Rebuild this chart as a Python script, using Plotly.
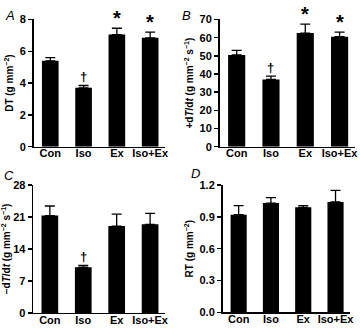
import plotly.graph_objects as go

categories = ["Con", "Iso", "Ex", "Iso+Ex"]

dt_vals = [5.4, 3.7, 7.05, 6.85]
dt_err = [0.2, 0.15, 0.4, 0.35]

plus_vals = [50.5, 37.0, 62.5, 60.5]
plus_err = [2.5, 1.8, 5.0, 2.5]

minus_vals = [21.3, 10.0, 19.0, 19.4]
minus_err = [2.1, 0.4, 2.6, 2.4]

rt_vals = [0.92, 1.03, 0.99, 1.04]
rt_err = [0.085, 0.05, 0.015, 0.11]

# significance markers: (category index, symbol)
dt_marks = [(1, "†"), (2, "*"), (3, "*")]
plus_marks = [(1, "†"), (2, "*"), (3, "*")]
minus_marks = [(1, "†")]
rt_marks = []

panels = [
    dict(vals=dt_vals, err=dt_err, marks=dt_marks, letter="A",
         title="DT (g mm<sup>−2</sup>)", tick=[0, 2, 4, 6, 8], rng=[0, 8], fmt="d",
         xd=[34/360, 167/360], yd=[1-146/331, 1-14/331], lx=3/360, ly=1-0/331),
    dict(vals=plus_vals, err=plus_err, marks=plus_marks, letter="B",
         title="+d<i>T</i>/d<i>t</i> (g mm<sup>−2</sup> s<sup>−1</sup>)",
         tick=[0, 10, 20, 30, 40, 50, 60, 70], rng=[0, 70], fmt="d",
         xd=[222/360, 359/360], yd=[1-146/331, 1-14/331], lx=182/360, ly=1-0/331),
    dict(vals=minus_vals, err=minus_err, marks=minus_marks, letter="C",
         title="−d<i>T</i>/d<i>t</i> (g mm<sup>−2</sup> s<sup>−1</sup>)",
         tick=[0, 7, 14, 21, 28], rng=[0, 28], fmt="d",
         xd=[33.5/360, 167/360], yd=[1-318.5/331, 1-185.7/331], lx=2/360, ly=1-166/331),
    dict(vals=rt_vals, err=rt_err, marks=rt_marks, letter="D",
         title="RT (g mm<sup>−2</sup>)", tick=[0, 0.3, 0.6, 0.9, 1.2], rng=[0, 1.2], fmt=".1f",
         xd=[225/360, 354/360], yd=[1-318/331, 1-185.7/331], lx=191/360, ly=1-164/331),
]

fig = go.Figure()
font_family = "Liberation Sans, Arial, sans-serif"
annotations = []
layout = {}
for i, p in enumerate(panels, start=1):
    xa = "x" if i == 1 else f"x{i}"
    ya = "y" if i == 1 else f"y{i}"
    fig.add_trace(go.Bar(
        x=categories, y=p["vals"], xaxis=xa, yaxis=ya,
        marker=dict(color="black", line=dict(width=0)), width=0.5,
        error_y=dict(type="data", symmetric=False, array=p["err"],
                     arrayminus=[0]*len(p["err"]), color="black",
                     thickness=1.3, width=5),
        showlegend=False, hoverinfo="skip",
    ))
    xkey = "xaxis" if i == 1 else f"xaxis{i}"
    ykey = "yaxis" if i == 1 else f"yaxis{i}"
    layout[xkey] = dict(
        domain=p["xd"], anchor=ya, range=[-0.5, 3.45], showline=True,
        linecolor="black", linewidth=1.5, ticks="", showgrid=False,
        ticklabelstandoff=-4,
        tickfont=dict(family=font_family, size=11, color="black", weight="bold"),
        fixedrange=True, zeroline=False,
    )
    layout[ykey] = dict(
        domain=p["yd"], anchor=xa, range=p["rng"], tickvals=p["tick"],
        tickformat=p["fmt"], showline=True, linecolor="black", linewidth=1.5,
        ticks="outside", ticklen=4, tickwidth=1.5, tickcolor="black",
        showgrid=False, zeroline=False, fixedrange=True,
        tickfont=dict(family=font_family, size=11, color="black", weight="bold"),
        title=dict(text=p["title"], standoff=4,
                   font=dict(family=font_family, size=10, color="black", weight="bold")),
    )
    for idx, sym in p["marks"]:
        top = p["vals"][idx] + p["err"][idx]
        annotations.append(dict(
            x=categories[idx], y=top, xref=xa, yref=ya, text=sym,
            showarrow=False, yanchor="bottom", yshift=-3 if sym == "*" else -1,
            font=dict(family=font_family, size=20 if sym == "*" else 13,
                      color="black", weight="bold"),
        ))
    annotations.append(dict(
        x=p["lx"], y=p["ly"], xref="paper", yref="paper", text=f"<i>{p['letter']}</i>",
        showarrow=False, xanchor="left", yanchor="top",
        font=dict(family=font_family, size=13, color="black"),
    ))

fig.update_layout(
    width=360, height=331, margin=dict(l=0, r=0, t=0, b=0),
    plot_bgcolor="white", paper_bgcolor="white", bargap=0.5,
    annotations=annotations, **layout,
)
fig.write_html(
    "out.html",
    config={"displayModeBar": False, "staticPlot": True},
    post_script="document.body.style.margin='0';document.body.style.overflow='hidden';",
)
